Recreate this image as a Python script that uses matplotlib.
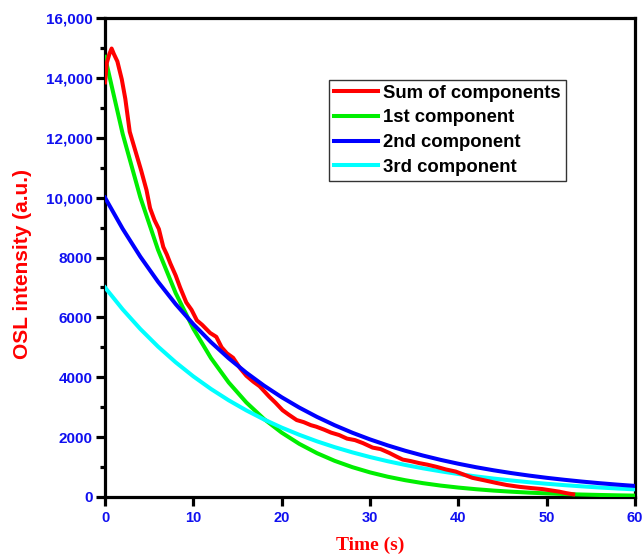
import matplotlib
matplotlib.use("Agg")
import matplotlib.pyplot as plt
from matplotlib.ticker import MultipleLocator, FuncFormatter

# ---- data ----
t_comp = list(range(0, 61, 2))
first_comp = [14700, 12129, 10008, 8258, 6813, 5622, 4639, 3827, 3158, 2606,
              2150, 1774, 1464, 1208, 997, 822, 678, 560, 462, 381,
              315, 260, 214, 177, 146, 120, 99, 82, 68, 56, 46]
second_comp = [10000, 8959, 8027, 7192, 6443, 5773, 5172, 4634, 4152, 3720,
               3333, 2986, 2675, 2397, 2147, 1924, 1724, 1544, 1384, 1240,
               1111, 995, 892, 799, 716, 641, 575, 515, 461, 413, 370]
third_comp = [7000, 6268, 5612, 5025, 4500, 4029, 3608, 3230, 2893, 2590,
              2319, 2077, 1859, 1665, 1491, 1335, 1195, 1070, 958, 858,
              768, 688, 616, 552, 494, 442, 396, 355, 317, 284, 255]

t_sum = [0.0, 0.2, 0.5, 0.75, 1.0, 1.4, 1.9, 2.3, 2.8, 3.2, 3.6, 4.1, 4.7, 5.1,
         5.6, 6.1, 6.6, 7.0, 7.4, 8.0, 8.5, 9.2, 9.8, 10.4, 11.0, 11.9, 12.6,
         13.2, 13.8, 14.5, 15.3, 16.0, 16.8, 17.5, 18.6, 19.3, 20.1, 20.8,
         21.7, 22.5, 23.3, 23.9, 24.8, 25.6, 26.5, 27.4, 28.3, 29.2, 30.3,
         31.2, 32.2, 33.0, 33.7, 34.6, 35.6, 36.5, 37.5, 38.6, 39.7, 40.6,
         41.6, 42.9, 44.3, 45.5, 46.9, 48.2, 49.5, 50.5, 51.4, 52.2, 53.0]
sum_comp = [13850, 14500, 14800, 14980, 14800, 14550, 13950, 13300, 12200,
            11800, 11400, 10900, 10250, 9650, 9250, 8950, 8350, 8100, 7800,
            7400, 7000, 6500, 6250, 5900, 5750, 5480, 5350, 5000, 4800, 4650,
            4300, 4050, 3850, 3700, 3350, 3150, 2900, 2750, 2570, 2500, 2400,
            2350, 2250, 2150, 2070, 1950, 1900, 1800, 1650, 1600, 1470, 1350,
            1250, 1200, 1130, 1080, 1010, 920, 850, 750, 640, 560, 470, 400,
            340, 300, 265, 220, 180, 130, 90]

labels = ["Sum of components", "1st component", "2nd component", "3rd component"]
x_ticks = [0, 10, 20, 30, 40, 50, 60]
y_ticks = [0, 2000, 4000, 6000, 8000, 10000, 12000, 14000, 16000]

# ---- figure ----
plt.rcParams['font.family'] = ['Liberation Sans', 'DejaVu Sans']
fig = plt.figure(figsize=(6.43, 5.59), dpi=100)
ax = fig.add_axes([105/643, 1-497/559, 530/643, 479/559])

lw = 2.9
l2, = ax.plot(t_comp, first_comp, color='#00EE00', lw=lw, zorder=3)
l4, = ax.plot(t_comp, third_comp, color='#00FFFF', lw=lw, zorder=3)
l1, = ax.plot(t_sum, sum_comp, color='#FF0000', lw=lw, zorder=4)
l3, = ax.plot(t_comp, second_comp, color='#0000FF', lw=lw, zorder=5)

ax.set_xlim(0, 60)
ax.set_ylim(0, 16000)
ax.set_xticks(x_ticks)
ax.set_yticks(y_ticks)
ax.yaxis.set_minor_locator(MultipleLocator(1000))

def yfmt(v, pos):
    v = int(round(v))
    return f"{v:,}" if v >= 10000 else f"{v}"
ax.yaxis.set_major_formatter(FuncFormatter(yfmt))

for sp in ax.spines.values():
    sp.set_linewidth(2.3)
    sp.set_color('black')

ax.tick_params(axis='both', which='major', direction='out', length=6.5,
               width=2.3, colors='black', labelcolor='#1010F0',
               labelsize=11)
ax.tick_params(axis='y', which='minor', direction='out', length=3.5,
               width=2.3, colors='black')
ax.tick_params(axis='y', which='major', pad=2.5)
ax.tick_params(axis='x', which='major', pad=3.5, labelsize=10.5)
for lab in ax.get_xticklabels() + ax.get_yticklabels():
    lab.set_fontweight('bold')

ax.set_xlabel("Time (s)", fontsize=14, fontweight='bold', color='#FF0000',
              family=['Liberation Serif', 'DejaVu Serif'])
ax.xaxis.set_label_coords(0.5, -0.082)
ax.set_ylabel("OSL intensity (a.u.)", fontsize=15, fontweight='bold',
              color='#FF0000')
ax.yaxis.set_label_coords(-0.137, 0.486)

leg = ax.legend([l1, l2, l3, l4], labels, loc='upper left',
                bbox_to_anchor=(329/643, 1-80/559),
                bbox_transform=fig.transFigure,
                prop={'weight': 'bold', 'size': 13.3},
                handlelength=2.4, handletextpad=0.3, labelspacing=0.42,
                borderpad=0.25, borderaxespad=0, fancybox=False,
                framealpha=1, edgecolor='#333333')
leg.get_frame().set_linewidth(1.0)
for h in leg.get_lines():
    h.set_linewidth(2.9)

fig.savefig("out.png", dpi=100)
